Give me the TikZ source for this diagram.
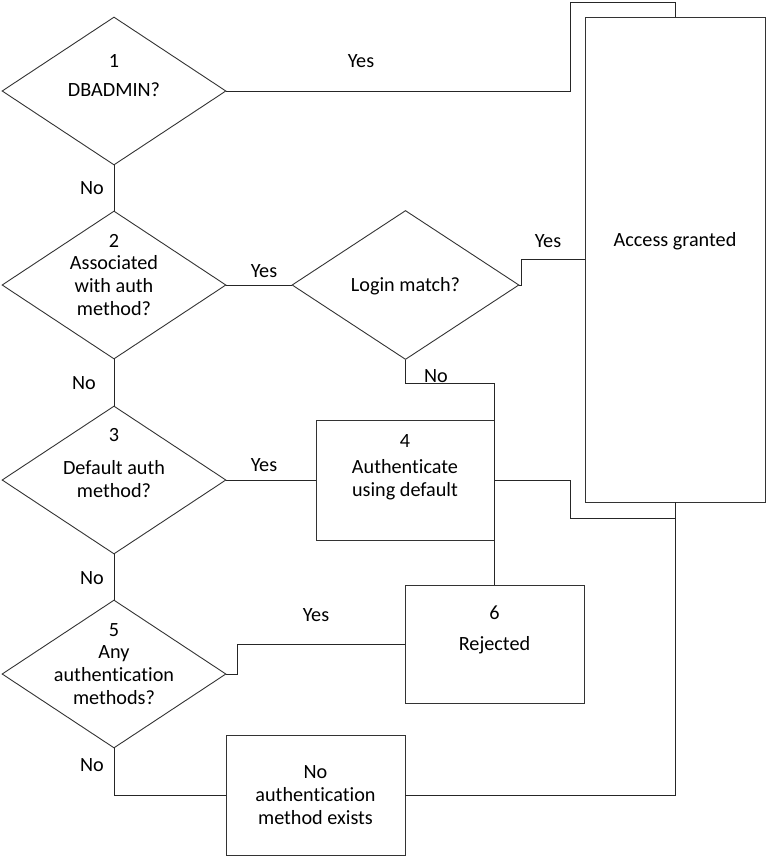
\documentclass[tikz,border=0pt]{standalone}
\usepackage{fontspec}
\setmainfont{Carlito}[Ligatures=NoCommon]
\usetikzlibrary{shapes.geometric}
\newcommand{\tibrk}{\kern0pt}
\begin{document}
\begin{tikzpicture}[x=1pt,y=-1pt,
  every node/.style={font=\fontsize{20.2}{23}\selectfont, text=black},
  dia/.style={diamond, draw=black!80, line width=0.9pt, inner sep=0pt, minimum width=224pt, minimum height=148pt},
  box/.style={rectangle, draw=black!80, line width=0.9pt, inner sep=0pt},
  txt/.style={align=center, inner sep=0pt},
  conn/.style={draw=black!85, line width=0.9pt},
  lbl/.style={inner sep=0pt}]
\useasboundingbox (0,0) rectangle (766,856);
% shapes
\node[dia] (d1) at (114,91) {};
\node[dia] (d2) at (114,285) {};
\node[dia, minimum width=227pt, minimum height=149pt] (lm) at (405.5,285) {};
\node[dia] (d3) at (114,480) {};
\node[dia] (d5) at (114,674) {};
\node[box, minimum width=180pt, minimum height=485pt] (acc) at (675,259.5) {};
\node[box, minimum width=178pt, minimum height=120pt] (b4) at (405,480) {};
\node[box, minimum width=179pt, minimum height=118pt] (b6) at (494.5,644) {};
\node[box, minimum width=179pt, minimum height=120pt] (na) at (315.5,795) {};
% texts
\node[txt] (t1) at (114,76) {1\\[6pt]DBADMIN?};
\node[txt] (t2) at (114,275) {2\\[-1pt]Associated\\with auth\\method?};
\node[txt] (tlm) at (405.5,286) {Login match?};
\node[txt] (t3) at (114,463) {3\\[10pt]Default auth\\method?};
\node[txt] (t5) at (114,664) {5\\[-1pt]Any\\authent\tibrk ication\\methods?};
\node[txt] (tacc) at (675,241) {Access granted};
\node[txt] (t4) at (405,467) {4\\[3pt]Authent\tibrk icate\\using default};
\node[txt] (t6) at (494.5,629.5) {6\\[8pt]Rejected};
\node[txt] (tna) at (315.5,795) {No\\authent\tibrk ication\\method exists};
% helper coordinates
\coordinate (c1) at (570,2);
\coordinate (c2) at (521,285);
\coordinate (c3) at (494.5,383);
\coordinate (c4) at (570,518);
\coordinate (c5) at (237,674);
% connectors
\draw[conn] (d1.east) -| (c1) -| (acc.north);
\draw[conn] (d1.south) -- (d2.north);
\draw[conn] (d2.south) -- (d3.north);
\draw[conn] (d3.south) -- (d5.north);
\draw[conn] (d2.east) -- (lm.west);
\draw[conn] (lm.east) -- (c2) |- (acc.west);
\draw[conn] (lm.south) |- (c3) -- (b6.north);
\draw[conn] (d3.east) -- (b4.west);
\draw[conn] (b4.east) -| (c4) -| (acc.south);
\draw[conn] (d5.east) -- (c5) |- (b6.west);
\draw[conn] (d5.south) |- (na.west);
\draw[conn] (na.east) -| (acc.south);
% labels
\node[lbl] (y1) at (361,61) {Yes};
\node[lbl] (n1) at (92,188) {No};
\node[lbl] (y2) at (264,271) {Yes};
\node[lbl] (y3) at (548,241) {Yes};
\node[lbl] (n2) at (436,376) {No};
\node[lbl] (n3) at (84,383) {No};
\node[lbl] (y4) at (264,465) {Yes};
\node[lbl] (n4) at (92,578) {No};
\node[lbl] (y5) at (316,615) {Yes};
\node[lbl] (n5) at (92,765) {No};
\end{tikzpicture}
\end{document}
